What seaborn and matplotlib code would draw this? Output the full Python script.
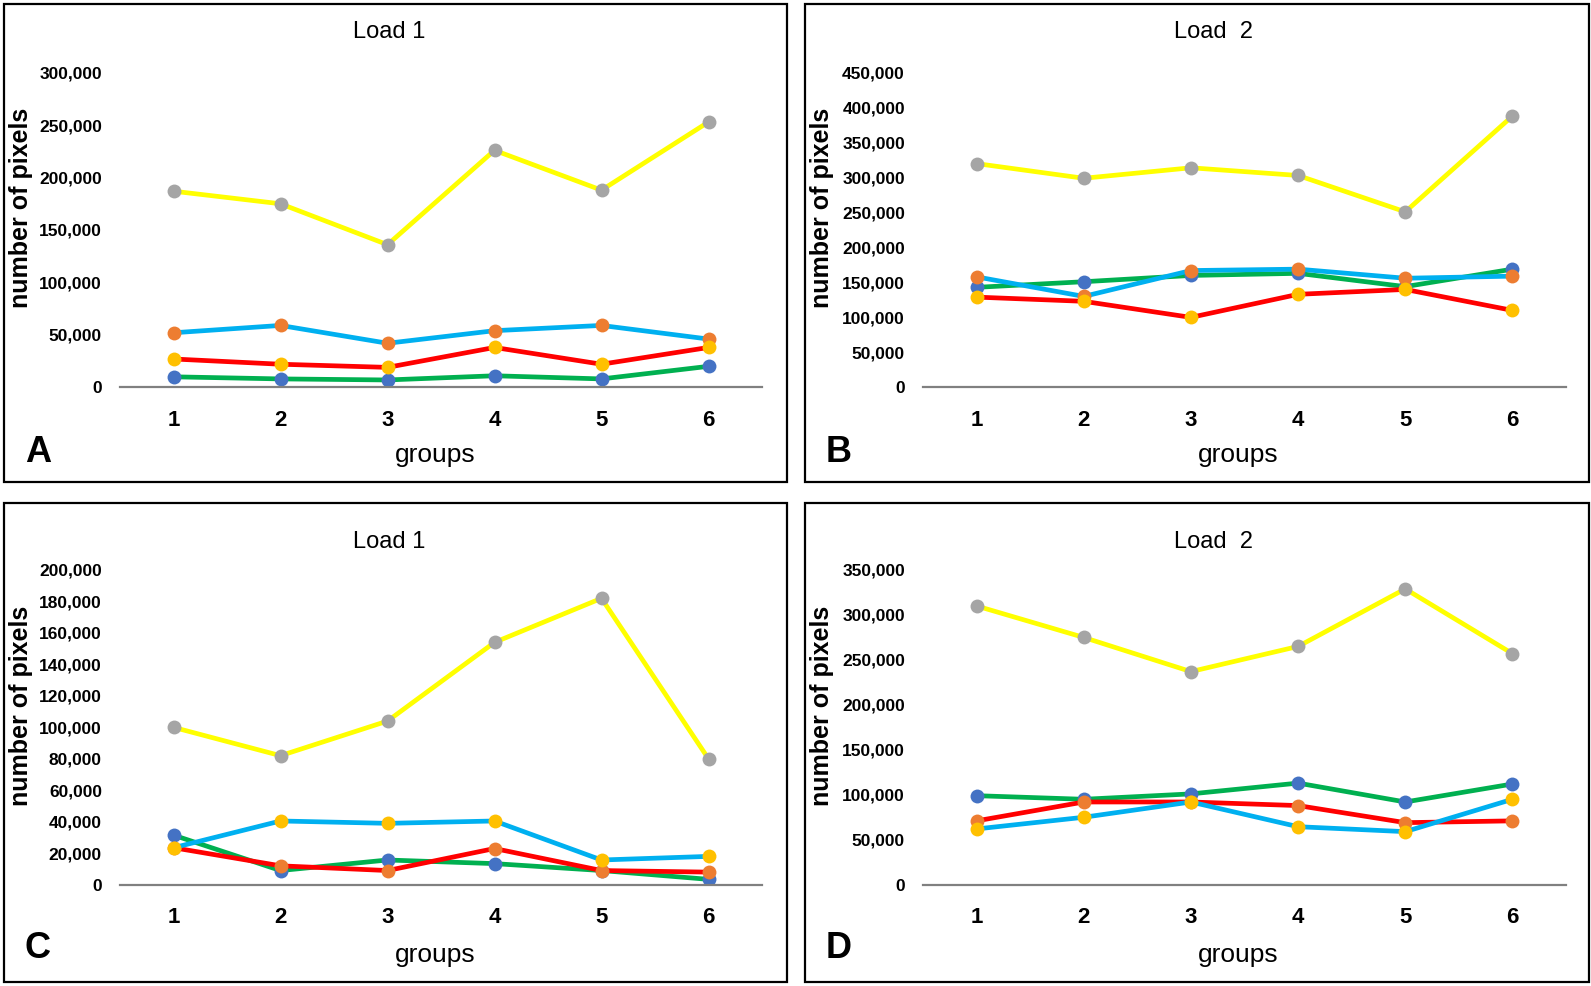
import numpy as np
import seaborn as sns
import matplotlib.pyplot as plt
from matplotlib.patches import Rectangle
from matplotlib.ticker import FuncFormatter

groups = [1, 2, 3, 4, 5, 6]

# panel A - Load 1 (values in pixels)
a_s1 = [10000, 8000, 7000, 11000, 8000, 20000]
a_s2 = [52000, 59000, 42000, 54000, 59000, 46000]
a_s3 = [187000, 175000, 136000, 226000, 188000, 253000]
a_s4 = [27000, 22000, 19000, 38000, 22000, 38000]

# panel B - Load 2
b_s1 = [143000, 151000, 160000, 163000, 144000, 169000]
b_s2 = [158000, 130000, 167000, 169000, 156000, 159000]
b_s3 = [320000, 299000, 314000, 303000, 251000, 388000]
b_s4 = [129000, 123000, 100000, 133000, 140000, 110000]

# panel C - Load 1
c_s1 = [31500, 9000, 15700, 13400, 9000, 3400]
c_s2 = [23500, 12000, 9000, 23000, 9000, 8000]
c_s3 = [100000, 82000, 104000, 154000, 182000, 80000]
c_s4 = [23500, 40500, 39000, 40500, 15700, 18000]

# panel D - Load 2
d_s1 = [99000, 95000, 101000, 113000, 92000, 112000]
d_s2 = [71000, 92000, 92000, 88000, 69000, 71000]
d_s3 = [310000, 275000, 237000, 265000, 329000, 257000]
d_s4 = [62000, 75000, 92000, 64500, 59000, 95000]

titles = ["Load 1", "Load  2", "Load 1", "Load  2"]
letters = ["A", "B", "C", "D"]
ymax = [300000, 450000, 200000, 350000]
ystep = [50000, 50000, 20000, 50000]

marker_cols = ["#4472C4", "#ED7D31", "#A5A5A5", "#FFC000"]
lines_top = ["#00B050", "#00B0F0", "#FFFF00", "#FF0000"]
lines_bot = ["#00B050", "#FF0000", "#FFFF00", "#00B0F0"]

sns.set_style("white")
plt.rcParams['font.family'] = ['Liberation Sans', 'DejaVu Sans']
plt.rcParams['text.color'] = 'black'
plt.rcParams['xtick.color'] = 'black'
plt.rcParams['ytick.color'] = 'black'

W, H = 1591, 986
fig = plt.figure(figsize=(W / 100, H / 100), dpi=100)


def fx(x):
    return x / W


def fy(y):
    return 1 - y / H


panels = [
    dict(data=[a_s1, a_s2, a_s3, a_s4], lc=lines_top, box=(4, 4, 787, 482), ax=(120, 72.7, 762, 387.3)),
    dict(data=[b_s1, b_s2, b_s3, b_s4], lc=lines_top, box=(805, 4, 1589, 482), ax=(923, 72.7, 1566, 387.3)),
    dict(data=[c_s1, c_s2, c_s3, c_s4], lc=lines_bot, box=(4, 503, 787, 982), ax=(120, 570, 762, 884.7)),
    dict(data=[d_s1, d_s2, d_s3, d_s4], lc=lines_bot, box=(805, 503, 1589, 982), ax=(923, 570, 1566, 884.7)),
]

for i, p in enumerate(panels):
    x0, y0, x1, y1 = p["box"]
    fig.patches.append(Rectangle((fx(x0), fy(y1)), fx(x1 - x0), (y1 - y0) / H,
                                 transform=fig.transFigure, fill=False,
                                 edgecolor="black", linewidth=1.6))
    l, t, r, b = p["ax"]
    ax = fig.add_axes([fx(l), fy(b), fx(r - l), (b - t) / H])

    for vals, lc, mc in zip(p["data"], p["lc"], marker_cols):
        sns.lineplot(x=groups, y=vals, ax=ax, color=lc, linewidth=3.4,
                     marker="o", markersize=10, markerfacecolor=mc,
                     markeredgecolor=mc, markeredgewidth=0)

    ax.set_xlim(0.5, 6.5)
    ax.set_ylim(0, ymax[i])
    ax.set_yticks(np.arange(0, ymax[i] + 1, ystep[i]))
    ax.yaxis.set_major_formatter(FuncFormatter(lambda v, pos: f"{int(v):,}"))
    ax.set_xticks(groups)
    for s in ["top", "right", "left"]:
        ax.spines[s].set_visible(False)
    ax.spines["bottom"].set_color("#808080")
    ax.spines["bottom"].set_linewidth(1.6)
    ax.tick_params(axis="x", length=0, pad=16)
    ax.tick_params(axis="y", length=0, pad=13)
    for lab in ax.get_xticklabels():
        lab.set_fontsize(16)
        lab.set_fontweight("bold")
    for lab in ax.get_yticklabels():
        lab.set_fontsize(12.5)
        lab.set_fontweight("bold")
    ax.set_xlabel("")
    ax.set_ylabel("")
    ax.grid(False)

    cx = (x0 + x1) / 2 - 6 if i % 2 == 0 else (x0 + x1) / 2 + 16
    ty = 32 if i < 2 else 542
    fig.text(fx(cx), fy(ty), titles[i], ha="center", va="center", fontsize=17)
    fig.text(fx((l + r) / 2 - 6), fy(455 if i < 2 else 955), "groups",
             ha="center", va="center", fontsize=19)
    fig.text(fx(x0 + 17), fy(208 if i < 2 else 706), "number of pixels",
             ha="center", va="center", rotation=90, fontsize=18, fontweight="bold")
    fig.text(fx(x0 + 21), fy(453 if i < 2 else 948), letters[i],
             ha="left", va="center", fontsize=26, fontweight="bold")

fig.savefig("out.png", dpi=100)
